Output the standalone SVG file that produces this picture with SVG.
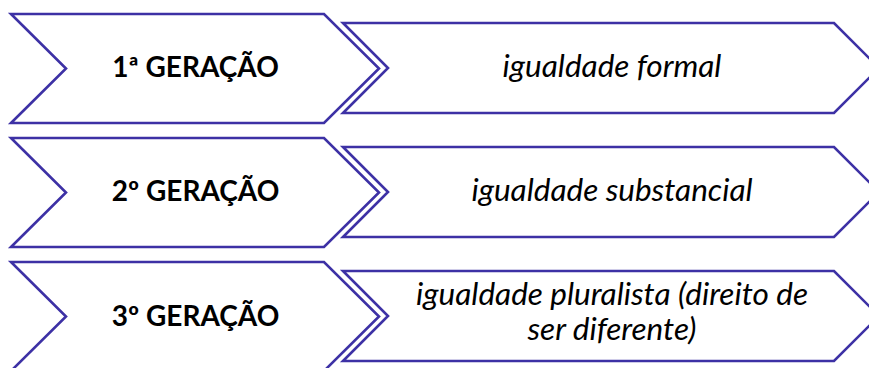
<svg xmlns="http://www.w3.org/2000/svg" width="869" height="368" viewBox="0 0 869 368">
<style>
.shape{fill:#ffffff;stroke:#3D31A5;stroke-width:2.6;stroke-linejoin:miter}
.gen{font-family:Lato,"Liberation Sans",sans-serif;font-weight:bold;font-size:28px;fill:#000;text-anchor:middle}
.desc{font-family:Lato,"Liberation Sans",sans-serif;font-style:italic;font-size:31.5px;fill:#000;text-anchor:middle}
</style>
<rect width="869" height="368" fill="#ffffff"/>
<g id="connectors"></g>
<g id="gen1">
<polygon class="shape" points="11,14 324,14 379,68.5 324,123 11,123 66,68.5"/>
<text class="gen" x="195.5" y="77">1ª GERAÇÃO</text>
</g>
<g id="desc1">
<polygon class="shape" points="343,23 834,23 879,68 834,113 343,113 388,68"/>
<text class="desc" x="612" y="77">igualdade formal</text>
</g>
<g id="gen2">
<polygon class="shape" points="11,138 324,138 379,192.5 324,247 11,247 66,192.5"/>
<text class="gen" x="195.5" y="201">2º GERAÇÃO</text>
</g>
<g id="desc2">
<polygon class="shape" points="343,147 834,147 879,192 834,237 343,237 388,192"/>
<text class="desc" x="612" y="201">igualdade substancial</text>
</g>
<g id="gen3">
<polygon class="shape" points="11,262 324,262 379,316.5 324,371 11,371 66,316.5"/>
<text class="gen" x="195.5" y="326">3º GERAÇÃO</text>
</g>
<g id="desc3">
<polygon class="shape" points="343,271 834,271 879,316 834,361 343,361 388,316"/>
<text class="desc" x="612" y="305">igualdade pluralista (direito de</text>
<text class="desc" x="612" y="340">ser diferente)</text>
</g>
</svg>
